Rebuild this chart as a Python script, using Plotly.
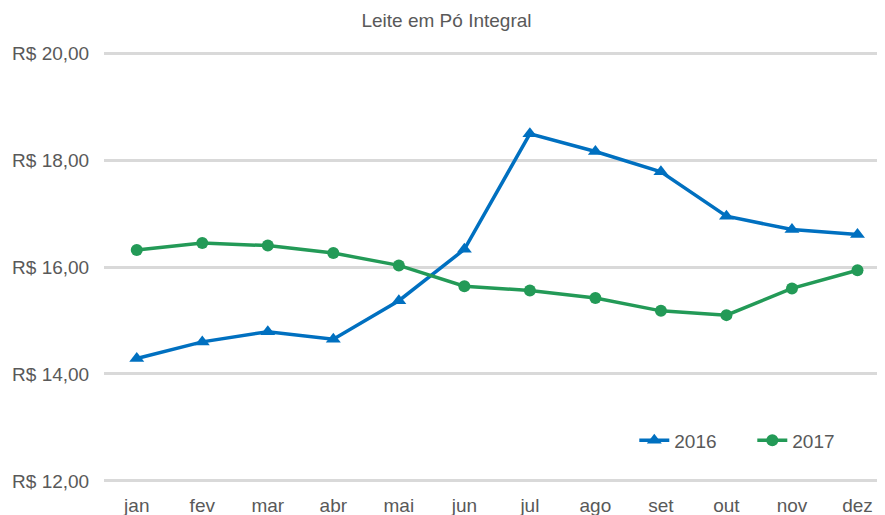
import plotly.graph_objects as go

months = ["jan", "fev", "mar", "abr", "mai", "jun", "jul", "ago", "set", "out", "nov", "dez"]
values_2016 = [14.29, 14.60, 14.79, 14.65, 15.37, 16.33, 18.49, 18.16, 17.78, 16.95, 16.70, 16.61]
values_2017 = [16.32, 16.45, 16.40, 16.26, 16.03, 15.64, 15.56, 15.42, 15.18, 15.10, 15.60, 15.94]
ytick_vals = [12, 14, 16, 18, 20]
ytick_text = ["R$ 12,00", "R$ 14,00", "R$ 16,00", "R$ 18,00", "R$ 20,00"]

BLUE = "#0070C0"
GREEN = "#239A57"
GREY = "#595959"
FONT = "Liberation Sans, Arial, sans-serif"

fig = go.Figure()
fig.add_trace(go.Scatter(
    x=list(range(len(months))), y=values_2016, name="2016", mode="lines+markers",
    line=dict(color=BLUE, width=3.5),
    marker=dict(symbol="triangle-up", size=13, color=BLUE),
))
fig.add_trace(go.Scatter(
    x=list(range(len(months))), y=values_2017, name="2017", mode="lines+markers",
    line=dict(color=GREEN, width=3.5),
    marker=dict(symbol="circle", size=12, color=GREEN),
))

fig.update_layout(
    width=877, height=507,
    margin=dict(l=96, r=0, t=44, b=33),
    paper_bgcolor="white", plot_bgcolor="white",
    font=dict(family=FONT, color=GREY, size=19),
    title=dict(text="Leite em Pó Integral", x=0.5, xanchor="center", y=0.976, yanchor="middle",
               font=dict(size=19, color=GREY, family=FONT)),
    showlegend=True,
    legend=dict(orientation="h", x=0.679, y=0.097, xanchor="left", yanchor="middle",
                font=dict(size=19, color=GREY), bgcolor="rgba(0,0,0,0)",
                entrywidth=73, entrywidthmode="pixels"),
    xaxis=dict(
        tickmode="array", tickvals=list(range(len(months))), ticktext=months,
        range=[-0.5, 11.42], showgrid=False, zeroline=False, showline=False,
        ticks="outside", ticklen=6, tickcolor="rgba(0,0,0,0)", automargin=False,
        tickfont=dict(size=19, color=GREY),
    ),
    yaxis=dict(
        range=[11.98, 20.02], tickmode="array", tickvals=ytick_vals, ticktext=ytick_text,
        showgrid=True, gridcolor="#D9D9D9", gridwidth=2.5, zeroline=False, showline=False,
        ticks="outside", ticklen=10, tickcolor="rgba(0,0,0,0)", automargin=False,
        tickfont=dict(size=19, color=GREY),
    ),
)

fig.write_html("out.html")
